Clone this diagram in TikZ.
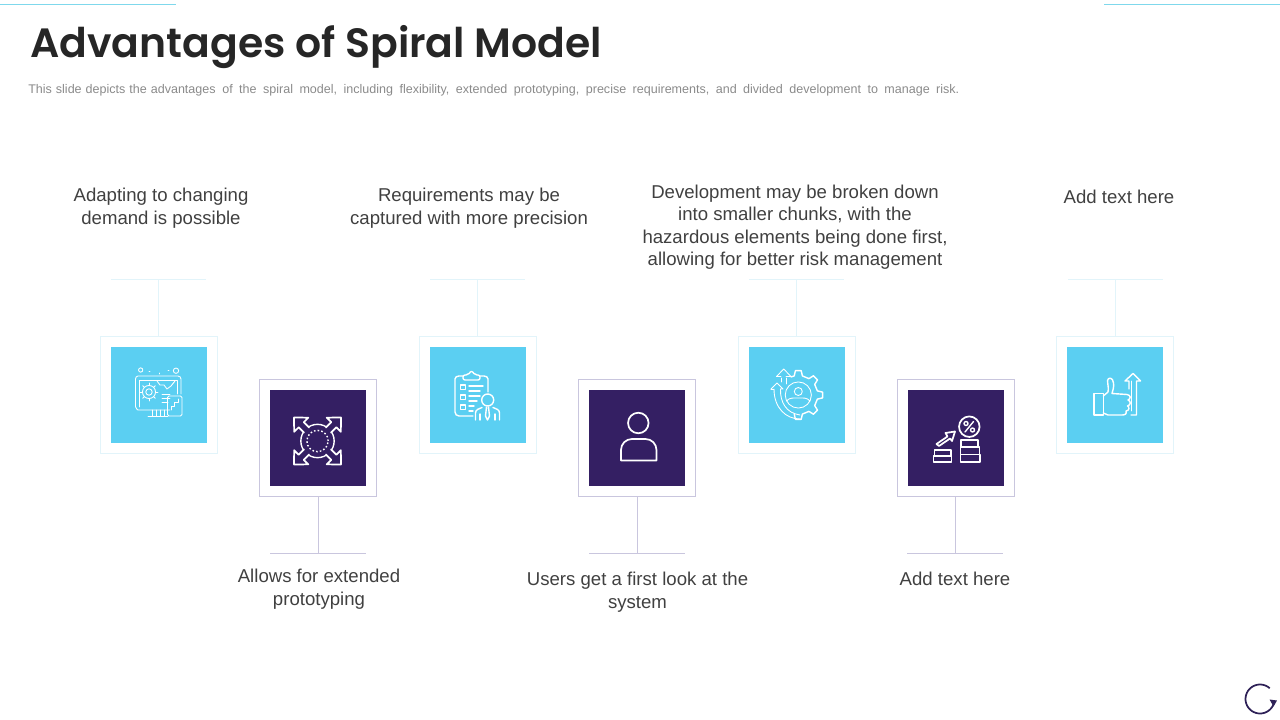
\documentclass[tikz,border=0pt]{standalone}
\usepackage{fontspec}
\setmainfont{Liberation Sans}
\newfontfamily\titlefont{Poppins SemiBold}
\definecolor{lightfill}{HTML}{5BCFF2}
\definecolor{darkfill}{HTML}{341F63}
\definecolor{lightedge}{HTML}{E2F4FA}
\definecolor{darkedge}{HTML}{C9C6DE}
\definecolor{topline}{HTML}{7FD8EC}
\definecolor{bodytext}{HTML}{404040}
\definecolor{subtext}{HTML}{8A8A8A}
\definecolor{titletext}{HTML}{262626}
\definecolor{reload}{HTML}{2E2157}
\newcommand\geararc[6]{% cx cy rout rin start list
  \draw[icon] ({#1+#4*cos(#5)},{#2-#4*sin(#5)})
  foreach \a in {#6} {
    -- ({#1+#4*cos(\a+0.27*45)},{#2-#4*sin(\a+0.27*45)})
    -- ({#1+#3*cos(\a+0.15*45)},{#2-#3*sin(\a+0.15*45)})
    -- ({#1+#3*cos(\a-0.15*45)},{#2-#3*sin(\a-0.15*45)})
    -- ({#1+#4*cos(\a-0.27*45)},{#2-#4*sin(\a-0.27*45)})
  };}
\newcommand\arcpx[5]{% cx cy r from to
  plot[domain=#4:#5,samples=40,smooth] ({#1+#3*cos(\x)},{#2-#3*sin(\x)})}
\tikzset{
  icon/.style={draw=white,line width=1.05pt,line join=round,line cap=round},
  thinicon/.style={draw=white,line width=0.65pt,line join=round,line cap=round},
  lightframe/.style={draw=lightedge,fill=white,line width=0.75pt,minimum size=87.75pt,inner sep=0pt},
  darkframe/.style={draw=darkedge,fill=white,line width=0.75pt,minimum size=87.75pt,inner sep=0pt},
  lightsquare/.style={fill=lightfill,minimum size=72pt,inner sep=0pt},
  darksquare/.style={fill=darkfill,minimum size=72pt,inner sep=0pt},
  lightlink/.style={draw=lightedge,line width=0.75pt},
  darklink/.style={draw=darkedge,line width=0.75pt},
  caption/.style={text=bodytext,align=center,font=\fontsize{13.95}{17.25}\selectfont,inner sep=0pt},
}
\begin{document}
\begin{tikzpicture}[x=0.75pt,y=-0.75pt]
\useasboundingbox (0,0) rectangle (1280,720);
% top rules
\coordinate (ra) at (0,4.5); \coordinate (rb) at (176,4.5);
\coordinate (rc) at (1104,4.5); \coordinate (rd) at (1280,4.5);
\draw[draw=topline,line width=0.9pt] (ra) -- (rb);
\draw[draw=topline,line width=0.9pt] (rc) -- (rd);
% title
\node[anchor=west,inner sep=0pt,text=titletext,font=\titlefont\fontsize{30.7}{40}\selectfont] (title) at (30,47.5) {Advantages of Spiral Model};
\node[anchor=west,inner sep=0pt,text=subtext,font=\fontsize{9.4}{11}\selectfont] (subtitle) at (28,90.5) {\spaceskip=3pt This slide depicts the advantages\hspace{2pt} \spaceskip=4.85pt of the spiral model, including flexibility, extended prototyping, precise requirements, and divided development to manage risk.};
% frames
\node[lightframe] (f1) at (158.5,394.5) {};
\node[darkframe]  (f2) at (317.5,437.5) {};
\node[lightframe] (f3) at (477.5,394.5) {};
\node[darkframe]  (f4) at (636.5,437.5) {};
\node[lightframe] (f5) at (796.5,394.5) {};
\node[darkframe]  (f6) at (955.5,437.5) {};
\node[lightframe] (f7) at (1114.5,394.5) {};
\node[lightsquare] (s1) at (f1) {};
\node[darksquare]  (s2) at (f2) {};
\node[lightsquare] (s3) at (f3) {};
\node[darksquare]  (s4) at (f4) {};
\node[lightsquare] (s5) at (f5) {};
\node[darksquare]  (s6) at (f6) {};
\node[lightsquare] (s7) at (f7) {};
% leader bars and links
\foreach \n/\x in {1/158.5,3/477.5,5/796.5,7/1115.5}{
  \coordinate (b\n l) at (\x-47.5,279); \coordinate (b\n r) at (\x+47.5,279);
  \coordinate (b\n) at (\x-0.5,279);
  \draw[lightlink] (b\n l) -- (b\n r);
  \draw[lightlink] (b\n) -- (b\n |- f\n.north);
}
\foreach \n/\x in {2/318,4/637,6/955}{
  \coordinate (b\n l) at (\x-48,553); \coordinate (b\n r) at (\x+48,553);
  \coordinate (b\n) at (\x,553);
  \draw[darklink] (b\n l) -- (b\n r);
  \draw[darklink] (b\n) -- (b\n |- f\n.south);
}
% captions
\node[caption] (c1) at (161,208.3) {Adapting to changing\\demand is possible};
\node[caption] (c2) at (319,589.3) {Allows for extended\\prototyping};
\node[caption] (c3) at (469,208.3) {Requirements may be\\captured with more precision};
\node[caption] (c4) at (637.5,592.6) {Users get a first look at the\\system};
\node[caption,font=\fontsize{13.95}{16.8}\selectfont] (c5) at (795,227.3) {Development may be broken down\\into smaller chunks, with the\\hazardous elements being done first,\\allowing for better risk management};
\node[caption] (c6) at (955,578.5) {Add text here};
\node[caption] (c7) at (1119,196.5) {Add text here};
% icon 1: monitor and gears
\draw[thinicon] (170,410) -- (138,410) to[out=180,in=90] (135.5,407) -- (135.5,379) to[out=90,in=180] (138,376) -- (178,376) to[out=0,in=90] (181,379) -- (181,394);
\draw[thinicon] (139,407) -- (139,380) -- (177,380) -- (177,394);
\draw[thinicon] (152,410) -- (152,416) (156,410) -- (156,416) (160,410) -- (160,416) (164,410) -- (164,416) (148,416) -- (168,416);
\draw[thinicon,rounded corners=1.2pt] (167.5,396) rectangle (182,416);
\draw[thinicon] (140.7,370) circle[radius=1.6pt] (176,370.7) circle[radius=2pt];
\draw[thinicon] (149,371) -- (150,371) (159,373) -- (159,374) (168,370) -- (169,370);
\foreach \a in {0,45,...,315}
  \draw[thinicon] ({149+6.5*cos(\a)},{392-6.5*sin(\a)}) -- ({149+9*cos(\a)},{392-9*sin(\a)});
\draw[thinicon] (149,392) circle[radius=4.9pt] (149,392) circle[radius=2.4pt];
\draw[thinicon] (157,381) -- (160,385) -- (164,385) -- (167,389) -- (171,386) -- (175,381);
\draw[thinicon] (162,394) -- (170,394) (162,398) -- (170,398) (162,402) -- (168,402);
\draw[thinicon] (171,410) -- (171,406) -- (174,406) -- (174,402) -- (178,402) -- (178,399);
% icon 2: four arrows round a circle
\draw[icon] (317.5,441) circle[radius=12.5pt];
\draw[icon,dash pattern=on 1.2pt off 1.6pt,line cap=butt] (317.5,441) circle[radius=8pt];
\foreach \r in {45,135,225,315}{
  \begin{scope}[shift={(317.5,441)},rotate=\r]
    \draw[icon,line width=1.3pt,fill=darkfill] (15.5,-3.6) -- (23,-3.6) -- (23,-10) -- (33.2,0) -- (23,10) -- (23,3.6) -- (15.5,3.6);
  \end{scope}
}
% icon 3: clipboard and person
\draw[icon] (473,416) -- (459,416) to[out=180,in=270] (455,412) -- (455,379) to[out=90,in=180] (459,376) -- (463,376) (480,376) -- (484,376) to[out=0,in=90] (488,379) -- (488,392);
\draw[icon,rounded corners=1.5pt] (463,380) -- (463,375) -- (468,375) -- (471.5,370.5) -- (475,375) -- (480,375) -- (480,380) -- cycle;
\draw[icon] (460.7,385) rectangle (465.7,389.5) (460.7,395) rectangle (465.7,399.5) (460.7,405) rectangle (465.7,409.5);
\draw[icon] (469,386) -- (483,386) (469,391) -- (480,391) (469,396) -- (480,396) (469,401) -- (477,401) (469,406) -- (474,406) (469,411) -- (473,411);
\draw[icon,fill=lightfill] (487.7,400) circle[radius=4.5pt];
\draw[icon] (475.5,420) -- (475.5,413) to[out=90,in=200] (482,407.5) (493,407.5) to[out=-20,in=90] (499.5,413) -- (499.5,420);
\draw[icon] (480,414) -- (480,420) (495,414) -- (495,420);
\draw[icon] (486.5,407) -- (485.5,416) -- (487.5,420) -- (489.5,416) -- (488.5,407);
% icon 4: user
\draw[icon,line width=1.3pt] (638.3,423) circle[radius=7.7pt];
\draw[icon,line width=1.3pt,line cap=butt] (621,460.5) -- (621,450) to[out=90,in=180] (632,439) -- (645.5,439) to[out=0,in=90] (656.5,450) -- (656.5,460.5) -- cycle;
% icon 5: gear, person and arrows
\geararc{798.3}{395}{24.5}{19.5}{112}{90,45,0,-45,-90}
\draw[thinicon] (798.3,395) circle[radius=9.8pt];
\draw[thinicon] (798.3,391.5) circle[radius=3pt];
\draw[thinicon] (786.5,401) to[out=50,in=180] (798.3,398) to[out=0,in=130] (810,401);
\draw[thinicon] (781.5,382) -- (781.5,378) (786,384) -- (786,378);
\draw[thinicon] (776.5,376.5) -- (783.7,369) -- (791,376.5) -- (786,376.5);
\draw[thinicon] (781,376.5) -- (776.5,376.5);
\draw[thinicon] (771,389) -- (777,383) -- (783,389) -- (780.5,389);
\draw[thinicon] (780.5,389) .. controls (780,402) and (786,413) .. (800,415);
\draw[thinicon] (774,389) -- (771,389);
\draw[thinicon] (774,389) .. controls (774,408) and (786,419) .. (800,419);
% icon 6: percent, coins and arrow
\draw[icon,line width=1.3pt] (969.3,426.7) circle[radius=7.7pt];
\draw[icon] (965,432) -- (973.5,421.5);
\draw[icon] (966,423.5) circle[radius=1.5pt] (972.5,430) circle[radius=1.5pt];
\draw[icon,line width=1.3pt] (961,440) rectangle (978,447) (960.5,447) rectangle (979.5,454.5) (960.5,454.5) rectangle (980,461.7);
\draw[icon,line width=1.3pt] (934.5,450) rectangle (951,456) (933.5,456) rectangle (951.5,461.7);
\draw[icon,line width=1.3pt] (936.5,444) -- (947.5,436.5) -- (945.5,433) -- (955,431.5) -- (952,441) -- (950,438.5) -- (939,446) -- cycle;
% icon 7: thumb up and arrow
\draw[icon] (1094,393.5) rectangle (1103.3,415);
\draw[icon] (1103.3,396) -- (1108,392) .. controls (1109,385) and (1107,384) .. (1107.5,380.5) .. controls (1108,377) and (1113,377) .. (1113.5,383) .. controls (1114,387) and (1113,390) .. (1112,393.5) -- (1127,394.5) .. controls (1131,395) and (1131,399) .. (1128,400) .. controls (1131,401) and (1131,405) .. (1127.5,406) .. controls (1130,407) and (1129,411) .. (1126,411) .. controls (1127,414) and (1125,415) .. (1122,415) -- (1108,415) -- (1103.3,413);
\draw[icon] (1131,415) -- (1136.5,415) -- (1136.5,381) -- (1140.5,381) -- (1133,373.5) -- (1125,381) -- (1129,381) -- (1129,389);
\draw[thinicon] (1131.5,381) -- (1131.5,411);
% reload mark
\draw[draw=reload,line width=1.3pt] \arcpx{1260}{699}{14.5}{48}{345};
\fill[fill=reload] (1269.5,699.5) -- (1277,700.5) -- (1273.5,706.5) -- cycle;
\end{tikzpicture}
\end{document}
